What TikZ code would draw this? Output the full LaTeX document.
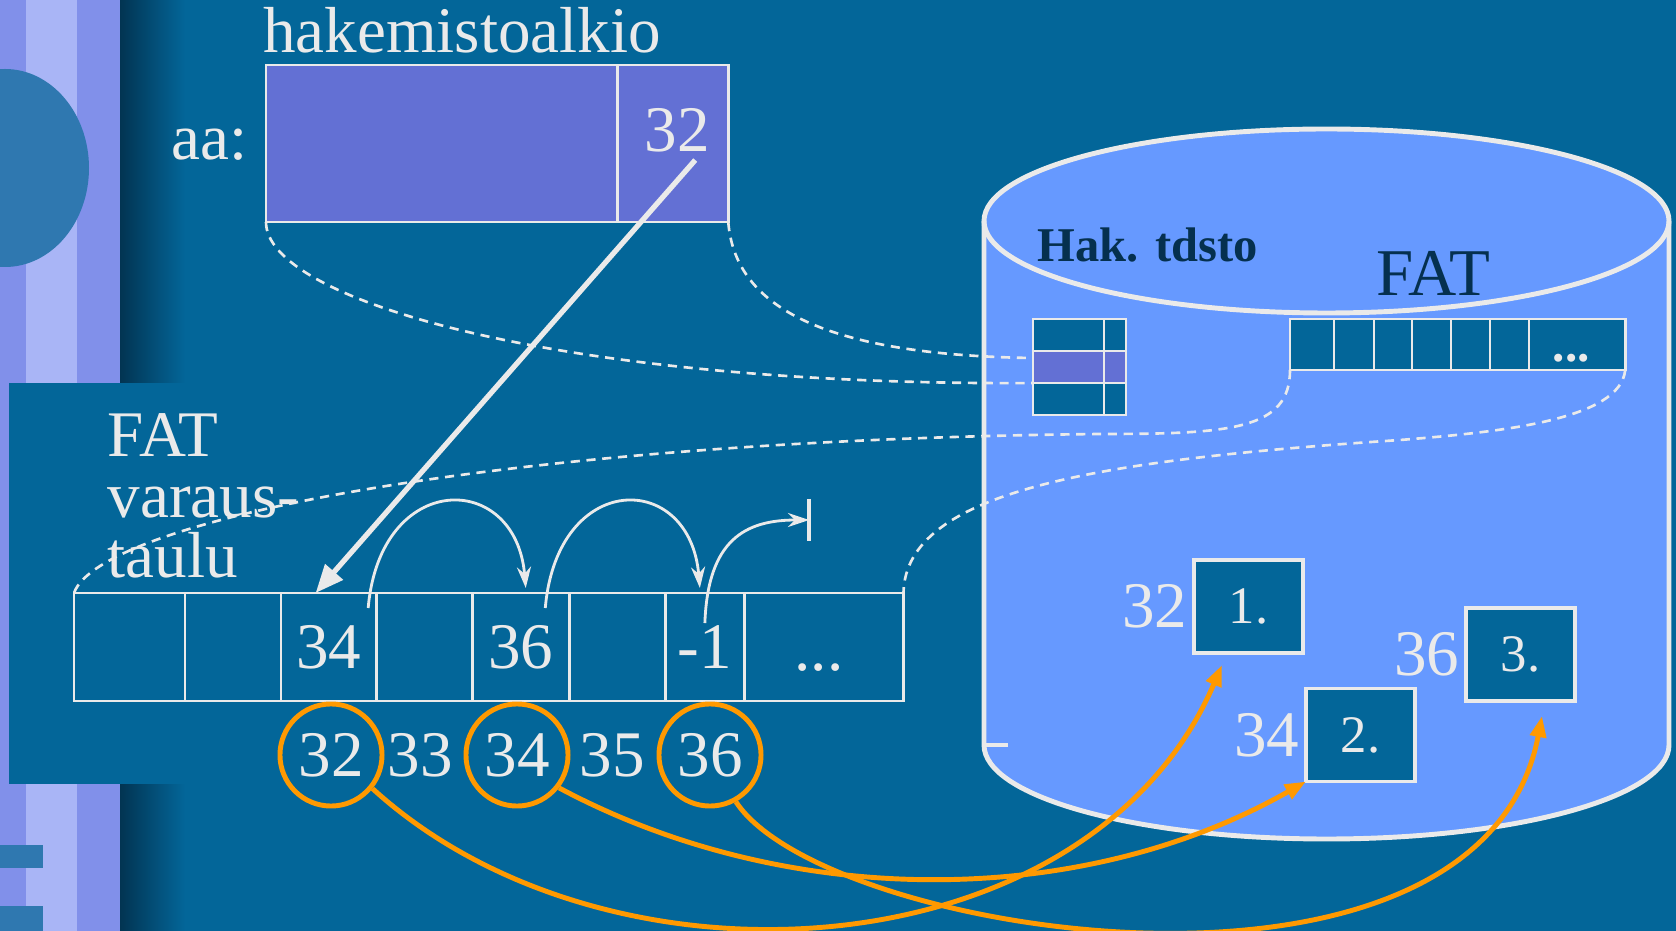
\documentclass[tikz,border=0pt]{standalone}
\usepackage{fontspec}
\setmainfont{Liberation Serif}
\usepackage{tikz}
\usetikzlibrary{arrows.meta,positioning}
\definecolor{bgblue}{HTML}{036699}
\definecolor{diskblue}{HTML}{6699FF}
\definecolor{slotviolet}{HTML}{6370D4}
\definecolor{chalk}{HTML}{EAEAEA}
\definecolor{amber}{HTML}{FF9900}
\definecolor{inkteal}{HTML}{05304F}
\definecolor{stripemid}{HTML}{8190EA}
\definecolor{stripelite}{HTML}{A9B5F6}
\definecolor{stripedark}{HTML}{2F78B0}
\definecolor{shadowblue}{HTML}{023452}
\newcommand\slidefont{\fontsize{18.5}{20}\selectfont}
\newcommand\panelfont{\fontsize{18.5}{17.2}\selectfont}
\newcommand\diskfont{\fontsize{19}{21}\selectfont}
\newcommand\tagfont{\fontsize{13.8}{15}\selectfont\bfseries}
\newcommand\blockfont{\fontsize{15}{17}\selectfont}
\tikzset{
  cellbox/.style={rectangle, draw=chalk, line width=0.75pt,
    inner sep=0pt, outer sep=0pt, minimum height=1.08cm,
    minimum width=#1, text=chalk, font=\slidefont},
  cellbox/.default=0.96cm,
  slotbox/.style={rectangle, draw=chalk, line width=0.75pt, fill=slotviolet,
    inner sep=0pt, outer sep=0pt, minimum height=1.57cm, minimum width=#1},
  minicell/.style={rectangle, draw=chalk, line width=0.75pt, fill=bgblue,
    inner sep=0pt, outer sep=0pt, minimum height=0.51cm, minimum width=#1},
  dirrow/.style={rectangle, draw=chalk, line width=0.75pt, fill=#1,
    inner sep=0pt, outer sep=0pt, minimum height=0.32cm, minimum width=0.93cm},
  dirrow/.default=bgblue,
  blockbox/.style={rectangle, draw=chalk, line width=0.9pt, fill=bgblue,
    inner sep=0pt, outer sep=0pt, minimum width=1.09cm, minimum height=0.93cm,
    text=chalk, font=\blockfont},
  numtext/.style={text=chalk, font=\slidefont, inner sep=0pt},
  ringed/.style={circle, draw=amber, line width=1.4pt, minimum size=1.02cm},
  linkarrow/.style={-{Stealth[length=6pt,width=4pt]}, draw=chalk, line width=0.8pt},
  ptrarrow/.style={-{Triangle[length=8pt,width=6.5pt]}, draw=chalk, line width=1.5pt},
  diskarrow/.style={-{Triangle[length=6pt,width=4.5pt]}, draw=amber, line width=1.4pt},
  zoomline/.style={draw=chalk, line width=0.75pt, dash pattern=on 2.6pt off 1.9pt},
  diskline/.style={draw=chalk, line width=1.4pt},
}
\begin{document}
\begin{tikzpicture}[x=0.01cm, y=-0.01cm]
\useasboundingbox (0,0) rectangle (1676,931);
% backdrop
\fill[bgblue] (0,0) rectangle (1676,931);
\fill[stripemid] (0,0) rectangle (120,931);
\fill[stripelite] (26,0) rectangle (77,931);
\fill[stripedark] (5,168) ellipse[x radius=84, y radius=99];
\fill[stripedark] (0,845) rectangle (43,868);
\fill[stripedark] (0,906) rectangle (43,931);
\shade[left color=shadowblue, right color=bgblue] (120,0) rectangle (185,931);
\fill[bgblue] (9,383) rectangle (200,784);

% disk
\fill[diskblue] (984,221) -- (984,745) arc[start angle=180, end angle=0, x radius=342.5, y radius=94] -- (1669,221) -- cycle;
\fill[diskblue] (1326.5,221) ellipse[x radius=342.5, y radius=92];
\draw[diskline] (984,221) -- (984,745) arc[start angle=180, end angle=0, x radius=342.5, y radius=94] -- (1669,221);
\draw[diskline] (1326.5,221) ellipse[x radius=342.5, y radius=92];
\draw[diskline] (984,745) -- (1008,745);
\node[font=\tagfont, text=inkteal, anchor=base west, inner sep=0pt] (disk-dir) at (1037,262) {Hak. tdsto};
\node[font=\diskfont, text=inkteal, anchor=base, inner sep=0pt] (disk-fat) at (1433,296) {FAT};

% directory entry
\node[font=\slidefont, text=chalk, anchor=base, inner sep=0pt] (hk-title) at (462,53) {hakemistoalkio};
\node[slotbox=3.51cm, anchor=north west] (hk-name) at (266,65) {};
\node[slotbox=1.11cm, right=0pt of hk-name] (hk-ptr) {};
\node[numtext, anchor=base east] (hk-aa) at (248,160) {aa:};
\node[numtext] (hk-first) at ([xshift=0.045cm, yshift=0.135cm]hk-ptr.center) {32};

% directory on disk
\node[dirrow, anchor=north west] (dir-r1) at (1033,319) {};
\node[dirrow=slotviolet, below=0pt of dir-r1] (dir-r2) {};
\node[dirrow, below=0pt of dir-r2] (dir-r3) {};
\draw[draw=chalk, line width=0.75pt] ([xshift=0.71cm]dir-r1.north west) -- ([xshift=0.71cm]dir-r3.south west);

% FAT on disk
\node[minicell=0.44cm, anchor=north west] (fm1) at (1290,319) {};
\node[minicell=0.40cm, right=0pt of fm1] (fm2) {};
\node[minicell=0.38cm, right=0pt of fm2] (fm3) {};
\node[minicell=0.39cm, right=0pt of fm3] (fm4) {};
\node[minicell=0.39cm, right=0pt of fm4] (fm5) {};
\node[minicell=0.39cm, right=0pt of fm5] (fm6) {};
\node[minicell=0.96cm, right=0pt of fm6] (fm7) {};
\node[text=chalk, font=\fontsize{14}{16}\selectfont\bfseries, inner sep=0pt] (fm-dots) at ([xshift=-0.06cm, yshift=-0.14cm]fm7.center) {...};

% data blocks
\node[blockbox] (blk1) at (1248.5,606.5) {1.};
\node[blockbox] (blk2) at (1360.5,735) {2.};
\node[blockbox] (blk3) at (1520.5,654.5) {3.};
\node[numtext, left=0.06cm of blk1] (blk1-no) {32};
\node[numtext, left=0.06cm of blk2] (blk2-no) {34};
\node[numtext, left=0.06cm of blk3] (blk3-no) {36};

% FAT in memory
\node[font=\panelfont, text=chalk, align=left, anchor=north west, inner sep=0pt] (fat-caption) at (107,413) {FAT\\varaus-\\taulu};
\node[cellbox=1.11cm, anchor=north west] (fc1) at (74,593) {};
\node[cellbox=0.96cm, right=0pt of fc1] (fc2) {};
\node[cellbox=0.95cm, right=0pt of fc2] (fc3) {34};
\node[cellbox=0.96cm, right=0pt of fc3] (fc4) {};
\node[cellbox=0.97cm, right=0pt of fc4] (fc5) {36};
\node[cellbox=0.96cm, right=0pt of fc5] (fc6) {};
\node[cellbox=0.79cm, right=0pt of fc6] (fc7) {-1};
\node[cellbox=1.59cm, right=0pt of fc7] (fc8) {};
\node[numtext] (fc-dots) at ([xshift=-0.05cm, yshift=-0.21cm]fc8.center) {...};
\coordinate (fat-nil) at (809,520);
\node[numtext, ringed] (n32) at (331,755) {32};
\node[numtext] (n33) at (420,755) {33};
\node[numtext, ringed] (n34) at (517,755) {34};
\node[numtext] (n35) at (612,755) {35};
\node[numtext, ringed] (n36) at (710,755) {36};

% zoom lines
\coordinate (fat-bend) at (1100,434);
\coordinate (fat-bend2) at (1400,440);
\draw[zoomline] (hk-name.south west) .. controls +(0,78) and +(-473,3) .. (dir-r2.south west);
\draw[zoomline] (hk-ptr.south east) .. controls +(7,88) and +(-203,-3) .. ([yshift=-0.07cm]dir-r2.north west);
\draw[zoomline] (fm1.south west) .. controls +(0,60) and +(130,0) .. (fat-bend)
  .. controls +(-600,6) and +(26,-73) .. (fc1.north west);
\draw[zoomline] (fm7.south east) .. controls +(-5,50) and +(100,-8) .. (fat-bend2)
  .. controls +(-300,20) and +(2,-103) .. (fc8.north east);

% chain
\draw[ptrarrow] ([xshift=0.225cm, yshift=-0.165cm]hk-ptr.center) -- ([xshift=-0.13cm]fc3.north);
\draw[linkarrow] ([xshift=-0.08cm, yshift=-0.15cm]fc3.north east) .. controls +(12,-138) and +(-10,-118) .. ([xshift=0.05cm, yshift=0.05cm]fc5.north);
\draw[linkarrow] ([xshift=-0.24cm, yshift=-0.15cm]fc5.north east) .. controls +(12,-138) and +(-10,-118) .. ([xshift=-0.05cm, yshift=0.05cm]fc7.north);
\draw[linkarrow] ([yshift=-0.3cm]fc7.north) .. controls +(3,-83) and +(-64,0) .. (fat-nil);
\draw[draw=chalk, line width=1.4pt] ([yshift=0.21cm]fat-nil) -- ([yshift=-0.21cm]fat-nil);

% blocks on disk
\draw[diskarrow] (n32.-39) .. controls +(238,217) and +(-132,308) .. ([xshift=-0.265cm, yshift=-0.12cm]blk1.south);
\draw[diskarrow] (n34.-38) .. controls +(228,122) and +(-225,128) .. (blk2.south west);
\draw[diskarrow] (n36.-61) .. controls +(88,135) and +(-62,323) .. ([xshift=0.215cm, yshift=-0.15cm]blk3.south);
\end{tikzpicture}
\end{document}
